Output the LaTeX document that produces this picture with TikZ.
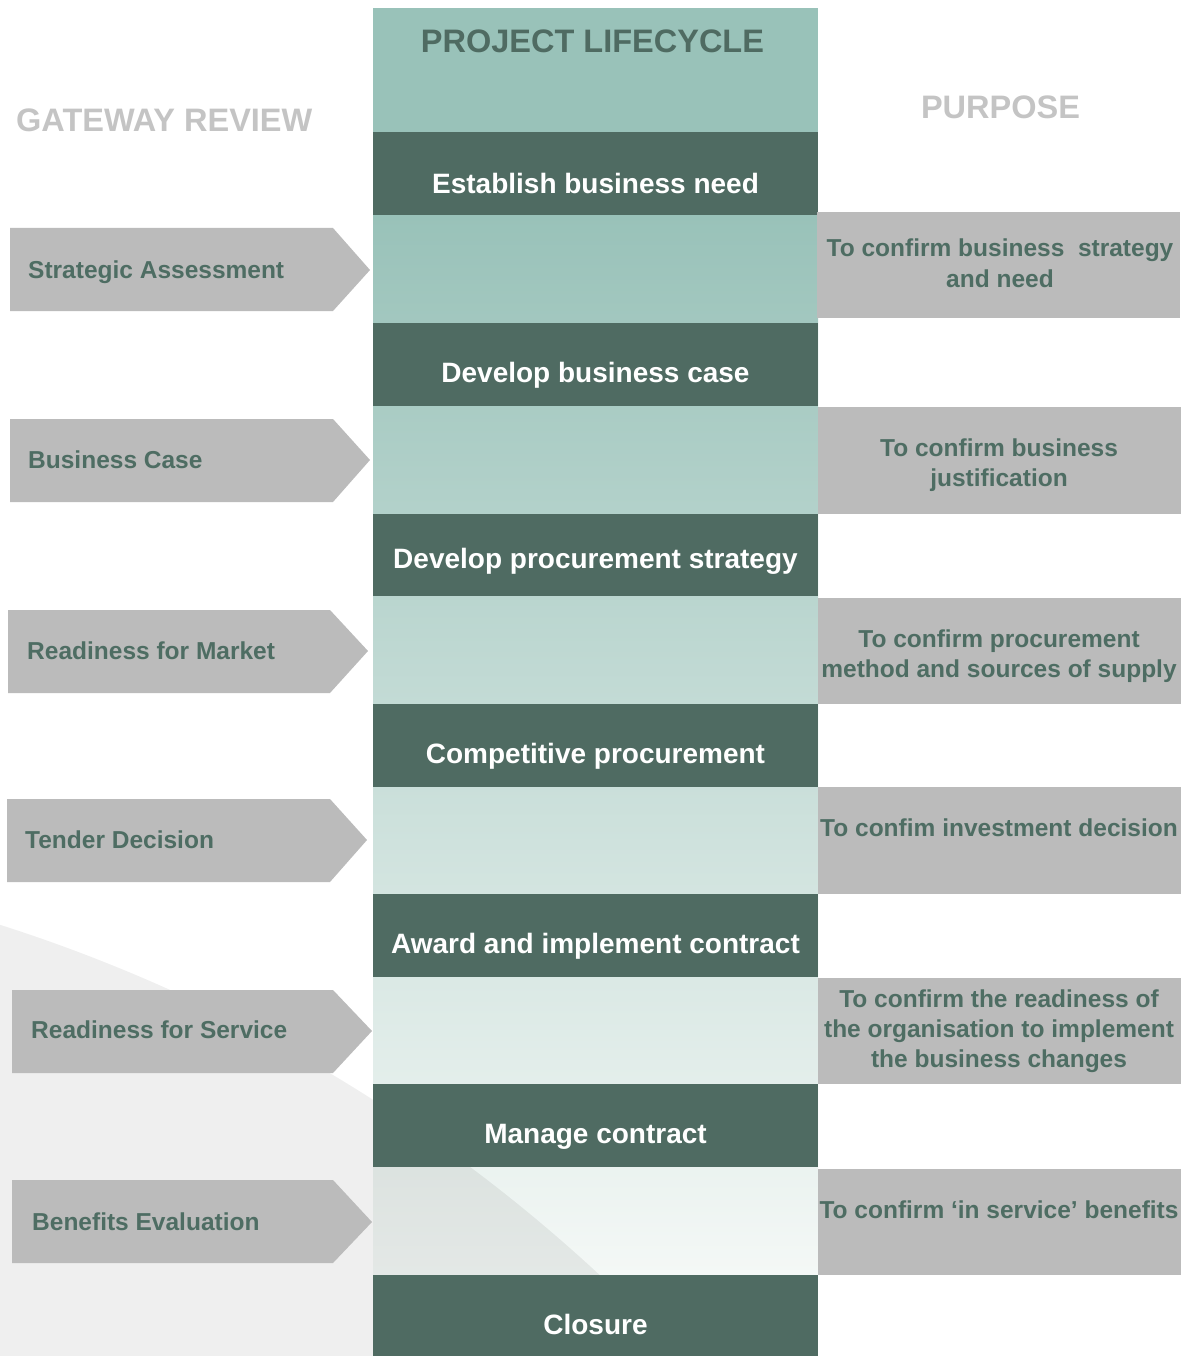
\documentclass[tikz,border=0pt]{standalone}
\usepackage{fontspec}
\setmainfont{Liberation Sans}
\definecolor{dkgreen}{HTML}{4F6B62}
\definecolor{txgreen}{HTML}{4E6D63}
\definecolor{tealtop}{HTML}{99C2B9}
\definecolor{tealend}{HTML}{F4F8F6}
\definecolor{boxgray}{HTML}{BBBBBB}
\definecolor{ttlgray}{HTML}{C4C4C4}
\tikzset{ stage/.style = { rectangle
                         , fill         = dkgreen
                         , text         = white
                         , anchor       = north
                         , inner sep    = 0pt
                         , minimum width = 445pt
                         , text height  = 59pt
                         , text depth   = 24pt
                         , font = \fontsize{28}{32}\selectfont\bfseries
                         },
          gate/.style  = { fill = boxgray
                         },
          gtxt/.style  = { anchor    = base west
                         , inner sep = 0pt
                         , text      = txgreen
                         , font = \fontsize{24.5}{29}\selectfont\bfseries
                         },
          purp/.style  = { fill = boxgray
                         },
          ptxt/.style  = { anchor    = base
                         , align     = center
                         , inner sep = 0pt
                         , text      = txgreen
                         , font = \fontsize{24.5}{30}\selectfont\bfseries
                         },
          ttl/.style   = { anchor    = base
                         , inner sep = 0pt
                         , font = \fontsize{32.5}{36}\selectfont\bfseries
                         }
        }

\begin{document}
\begin{tikzpicture}[x=1pt, y=-1pt]
            \useasboundingbox (0,0) rectangle (1188,1356);
            % lifecycle column
            \fill[tealtop] (373,8) rectangle (818,132);
            \fill[top color=tealtop, bottom color=tealend] (373,215) rectangle (818,1275);
            % grey sweep in the corner
            \begin{scope}
            \clip (0,0) rectangle (1188,1356);
            \fill[black, fill opacity=0.063] (-484,2444) circle [radius=1594pt];
            \end{scope}
            \node[ttl, text=dkgreen] (plc) at (592.5,53) {PROJECT LIFECYCLE};
            \node[ttl, text=ttlgray, anchor=base west] (gwr) at (16,131.5) {GATEWAY REVIEW};
            \node[ttl, text=ttlgray] (pur) at (1000.5,118.5) {PURPOSE};
            % stages
            \node[stage, text height=61pt, text depth=22pt] (s1) at (595.5,132) {Establish business need};
            \node[stage] (s2) at (595.5,323) {Develop business case};
            \node[stage, text height=54pt, text depth=28pt] (s3) at (595.5,514) {Develop procurement strategy};
            \node[stage] (s4) at (595.5,704) {Competitive procurement};
            \node[stage] (s5) at (595.5,894) {Award and implement contract};
            \node[stage] (s6) at (595.5,1084) {Manage contract};
            \node[stage, text depth=22pt] (s7) at (595.5,1275) {Closure};
            % gateway reviews
            \fill[gate] (10,228) -- (333,228) -- (370,270) -- (333,311) -- (10,311) -- cycle;
            \node[gtxt] (g1) at (28,278.5) {Strategic Assessment};
            \fill[gate] (10,419) -- (333,419) -- (370,460) -- (333,502) -- (10,502) -- cycle;
            \node[gtxt] (g2) at (28,468.5) {Business Case};
            \fill[gate] (8,610) -- (330,610) -- (368,651) -- (330,693) -- (8,693) -- cycle;
            \node[gtxt] (g3) at (27,659.5) {Readiness for Market};
            \fill[gate] (7,799) -- (330,799) -- (367,840) -- (330,882) -- (7,882) -- cycle;
            \node[gtxt] (g4) at (25,848.5) {Tender Decision};
            \fill[gate] (12,990) -- (333,990) -- (372,1031) -- (333,1073) -- (12,1073) -- cycle;
            \node[gtxt] (g5) at (31,1038.5) {Readiness for Service};
            \fill[gate] (12,1180) -- (333,1180) -- (372,1222) -- (333,1263) -- (12,1263) -- cycle;
            \node[gtxt] (g6) at (32,1230.5) {Benefits Evaluation};
            % purposes (base = last line)
            \fill[purp] (817,212) rectangle (1180,318);
            \node[ptxt] (p1) at (1000,287) {To confirm business\ \ strategy\\and need};
            \fill[purp] (818,407) rectangle (1181,514);
            \node[ptxt] (p2) at (999,486.5) {To confirm business\\justification};
            \fill[purp] (818,598) rectangle (1181,704);
            \node[ptxt] (p3) at (999,677.5) {To confirm procurement\\method and sources of supply};
            \fill[purp] (818,787) rectangle (1181,894);
            \node[ptxt] (p4) at (999,836.5) {To confim investment decision};
            \fill[purp] (818,978) rectangle (1181,1084);
            \node[ptxt] (p5) at (999,1067.5) {To confirm the readiness of\\the organisation to implement\\the business changes};
            \fill[purp] (818,1169) rectangle (1181,1275);
            \node[ptxt] (p6) at (999,1218.5) {To confirm ‘in service’ benefits};
\end{tikzpicture}
\end{document}
